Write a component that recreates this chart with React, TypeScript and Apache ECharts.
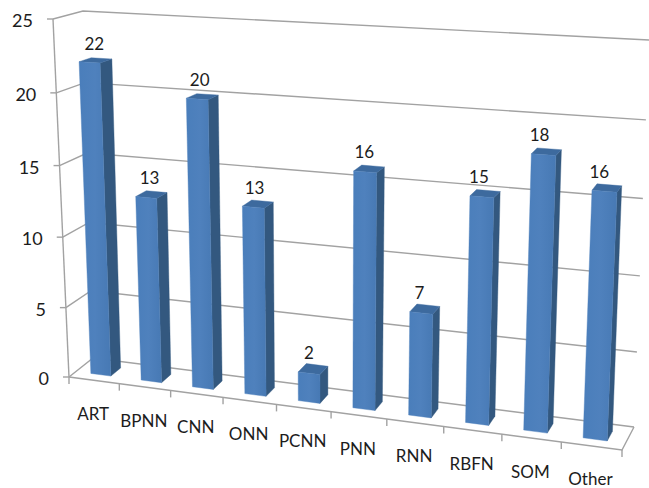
import React, { useEffect, useRef } from "react";
import * as echarts from "echarts";

const categories = ["ART", "BPNN", "CNN", "ONN", "PCNN", "PNN", "RNN", "RBFN", "SOM", "Other"];
const counts = [22, 13, 20, 13, 2, 16, 7, 15, 18, 16];
const valueTicks = [0, 5, 10, 15, 20, 25];

const WIDTH = 649;
const HEIGHT = 488;
const GRID_COLOR = "#a2a2a2";
const TEXT_COLOR = "#1c1c1c";
const FONT = "Lato, 'Open Sans', sans-serif";

// Screen positions of the eight corners of the chart box: [front|back][left|right][bottom|top]
const corners = {
  flb: [69, 377], flt: [53, 19], blb: [93, 358], blt: [83, 11],
  frb: [622, 450], frt: [639, 51], brb: [634, 427], brt: [649, 40],
};

const lerp = (a: number[], b: number[], t: number) => [a[0] + (b[0] - a[0]) * t, a[1] + (b[1] - a[1]) * t];

// Box coordinates (u along categories, v up the value axis, w into the depth) to screen pixels.
function project(u: number, v: number, w: number) {
  const cu = u / (1 + 0.11 * (1 - u));
  const cv = v / (1 + 0.04 * (1 - v));
  const frontBottom = lerp(corners.flb, corners.frb, cu);
  const frontTop = lerp(corners.flt, corners.frt, cu);
  const backBottom = lerp(corners.blb, corners.brb, cu);
  const backTop = lerp(corners.blt, corners.brt, cu);
  return lerp(lerp(frontBottom, frontTop, cv), lerp(backBottom, backTop, cv), w);
}

// Hidden cartesian scales turned into box coordinates.
function boxOf(params: any, api: any, index: number, value: number, offset = 0) {
  const cs = params.coordSys;
  const p = api.coord([index, value]);
  const band = api.size([1, 0])[0];
  return { u: (p[0] + offset * band - cs.x) / cs.width, v: (cs.y + cs.height - p[1]) / cs.height };
}

const lineEl = (points: number[][]) => ({
  type: "polyline",
  shape: { points },
  style: { stroke: GRID_COLOR, lineWidth: 1.4, fill: "none" },
  silent: true,
});

const polyEl = (points: number[][], fill: any) => ({
  type: "polygon",
  shape: { points },
  style: { fill, stroke: fill, lineWidth: 0.4 },
  silent: true,
});

const textEl = (text: string, x: number, y: number, align: string, fontSize: number) => ({
  type: "text",
  silent: true,
  style: {
    text: text,
    x,
    y,
    align,
    verticalAlign: "middle",
    textAlign: align,
    textVerticalAlign: "middle",
    fontSize,
    fontFamily: FONT,
    fill: TEXT_COLOR,
  },
});

function renderValueLevel(params: any, api: any) {
  const value = api.value(1);
  const { v } = boxOf(params, api, 0, value);
  const front = project(0, v, 0);
  const back = project(0, v, 1);
  const right = project(1, v, 1);
  const children: any[] = [
    lineEl([front, back, right]),
    lineEl([[front[0] - 6, front[1]], front]),
    textEl(String(value), front[0] - 20, front[1] + 1, "right", 18),
  ];
  if (value === 0) {
    const rightFront = project(1, 0, 0);
    children.push(lineEl([front, rightFront, right]));
    children.push(lineEl([front, project(0, 1, 0)]));
    children.push(lineEl([front, [front[0], front[1] + 7]]));
  }
  return { type: "group", children };
}

function renderCategoryTick(params: any, api: any) {
  const index = api.value(0);
  const { u } = boxOf(params, api, index, 0, 0.5);
  const { u: mid } = boxOf(params, api, index, 0);
  const tick = project(u, 0, 0);
  const centre = project(mid, 0, 0);
  return {
    type: "group",
    children: [
      lineEl([tick, [tick[0], tick[1] + 7]]),
      textEl(categories[index], centre[0] - 1, centre[1] + 33, "center", 17),
    ],
  };
}

function renderBar(params: any, api: any) {
  const index = api.value(0);
  const value = api.value(1);
  const { u: u0 } = boxOf(params, api, index, 0, -0.2);
  const { u: u1 } = boxOf(params, api, index, 0, 0.2);
  const { v } = boxOf(params, api, index, value);
  const [w0, w1] = [0.29, 0.71];
  const fb0 = project(u0, 0, w0);
  const fb1 = project(u1, 0, w0);
  const bb1 = project(u1, 0, w1);
  const ft0 = project(u0, v, w0);
  const ft1 = project(u1, v, w0);
  const bt1 = project(u1, v, w1);
  const bt0 = project(u0, v, w1);
  const topCentre = project((u0 + u1) / 2, v, 0.5);
  const front = new echarts.graphic.LinearGradient(0, 0, 1, 0, [
    { offset: 0, color: "#4a7ebb" },
    { offset: 0.5, color: "#4f81bd" },
    { offset: 1, color: "#4779b4" },
  ]);
  return {
    type: "group",
    children: [
      polyEl([fb1, bb1, bt1, ft1], "#33587f"),
      polyEl([ft0, ft1, bt1, bt0], "#3d6a9e"),
      polyEl([fb0, fb1, ft1, ft0], front),
      textEl(String(value), topCentre[0] - 1 - 7 * u0, topCentre[1] - 17, "center", 17),
    ],
  };
}

export default function App() {
  const ref = useRef<HTMLDivElement>(null);

  useEffect(() => {
    const chart = echarts.init(ref.current!, undefined, { renderer: "svg" });
    chart.setOption({
      animation: false,
      backgroundColor: "#ffffff",
      grid: { left: 0, right: 0, top: 0, bottom: 0 },
      xAxis: { type: "category", data: categories, show: false },
      yAxis: { type: "value", min: 0, max: 25, interval: 5, show: false },
      series: [
        {
          type: "custom",
          coordinateSystem: "cartesian2d",
          renderItem: renderValueLevel,
          data: valueTicks.map((t) => [0, t]),
          z: 1,
          silent: true,
        },
        {
          type: "custom",
          coordinateSystem: "cartesian2d",
          renderItem: renderCategoryTick,
          data: categories.map((_, i) => [i, 0]),
          z: 2,
          silent: true,
        },
        {
          type: "custom",
          coordinateSystem: "cartesian2d",
          renderItem: renderBar,
          data: counts.map((c, i) => [i, c]),
          z: 3,
          silent: true,
        },
      ],
    });
    return () => chart.dispose();
  }, []);

  return <div ref={ref} style={{ position: "absolute", left: 0, top: 0, width: WIDTH, height: HEIGHT }} />;
}
